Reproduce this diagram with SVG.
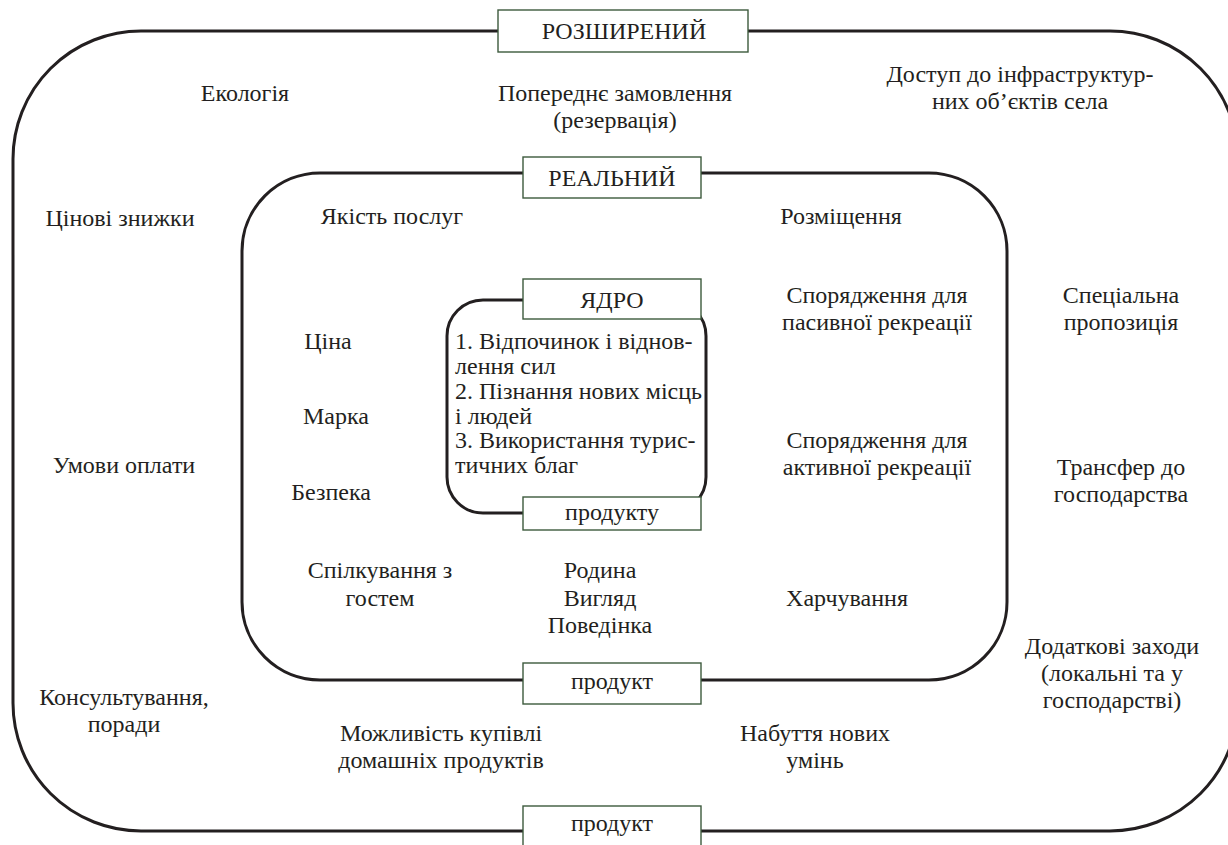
<svg xmlns="http://www.w3.org/2000/svg" width="1228" height="845" viewBox="0 0 1228 845" font-family="'Liberation Serif', 'Times New Roman', 'DejaVu Serif', serif" font-size="24">
<style>
.ring{fill:none;stroke:#231f20;stroke-width:3}
.lbl{fill:#fff;stroke:#3d5a3d;stroke-width:1.4}
text{font-family:'Liberation Serif','Times New Roman','DejaVu Serif',serif;font-size:24px;fill:#231f20}
.c{text-anchor:middle}
</style>
<rect width="1228" height="845" fill="#fff"/>
<g id="connectors">
<rect id="outer-ring" class="ring" x="13" y="31" width="1225" height="800" rx="128" ry="128"/>
<rect id="real-ring" class="ring" x="242" y="173" width="765" height="507" rx="78" ry="78"/>
<rect id="core-ring" class="ring" x="447" y="300" width="259" height="213" rx="36" ry="36"/>
</g>
<g id="label-extended">
<rect class="lbl" x="498" y="10" width="250" height="42"/>
<text class="c" x="624" y="39">РОЗШИРЕНИЙ</text>
</g>
<g id="label-real">
<rect class="lbl" x="523" y="157" width="178" height="41"/>
<text class="c" x="612" y="186">РЕАЛЬНИЙ</text>
</g>
<g id="label-core">
<rect class="lbl" x="523" y="279" width="178" height="40"/>
<text class="c" x="612" y="308">ЯДРО</text>
</g>
<g id="label-core-product">
<rect class="lbl" x="523" y="497" width="178" height="33"/>
<text class="c" x="612" y="520">продукту</text>
</g>
<g id="label-real-product">
<rect class="lbl" x="523" y="663" width="178" height="41"/>
<text class="c" x="612" y="689">продукт</text>
</g>
<g id="label-ext-product">
<rect class="lbl" x="523" y="806" width="178" height="45"/>
<text class="c" x="612" y="831">продукт</text>
</g>
<g id="outer-items">
<text class="c" x="245" y="101">Екологія</text>
<text class="c" x="615" y="101">Попереднє замовлення</text>
<text class="c" x="615" y="128">(резервація)</text>
<text class="c" x="1020" y="82">Доступ до інфраструктур-</text>
<text class="c" x="1020" y="109">них об’єктів села</text>
<text class="c" x="120" y="226">Цінові знижки</text>
<text class="c" x="124" y="473">Умови оплати</text>
<text class="c" x="124" y="705">Консультування,</text>
<text class="c" x="124" y="732">поради</text>
<text class="c" x="1121" y="303">Спеціальна</text>
<text class="c" x="1121" y="330">пропозиція</text>
<text class="c" x="1121" y="475">Трансфер до</text>
<text class="c" x="1121" y="502">господарства</text>
<text class="c" x="1112" y="654">Додаткові заходи</text>
<text class="c" x="1112" y="681">(локальні та у</text>
<text class="c" x="1112" y="708">господарстві)</text>
<text class="c" x="441" y="741">Можливість купівлі</text>
<text class="c" x="441" y="768">домашніх продуктів</text>
<text class="c" x="815" y="741">Набуття нових</text>
<text class="c" x="815" y="768">умінь</text>
</g>
<g id="real-items">
<text class="c" x="392" y="224">Якість послуг</text>
<text class="c" x="841" y="224">Розміщення</text>
<text class="c" x="328" y="349">Ціна</text>
<text class="c" x="336" y="424">Марка</text>
<text class="c" x="331" y="500">Безпека</text>
<text class="c" x="380" y="578">Спілкування з</text>
<text class="c" x="380" y="606">гостем</text>
<text class="c" x="600" y="578">Родина</text>
<text class="c" x="600" y="606">Вигляд</text>
<text class="c" x="600" y="633">Поведінка</text>
<text class="c" x="877" y="303">Спорядження для</text>
<text class="c" x="877" y="330">пасивної рекреації</text>
<text class="c" x="877" y="448">Спорядження для</text>
<text class="c" x="877" y="475">активної рекреації</text>
<text class="c" x="847" y="606">Харчування</text>
</g>
<g id="core-items">
<text x="455" y="349">1. Відпочинок і віднов-</text>
<text x="455" y="374">лення сил</text>
<text x="455" y="399">2. Пізнання нових місць</text>
<text x="455" y="424">і людей</text>
<text x="455" y="448">3. Використання турис-</text>
<text x="455" y="473">тичних благ</text>
</g>
</svg>
